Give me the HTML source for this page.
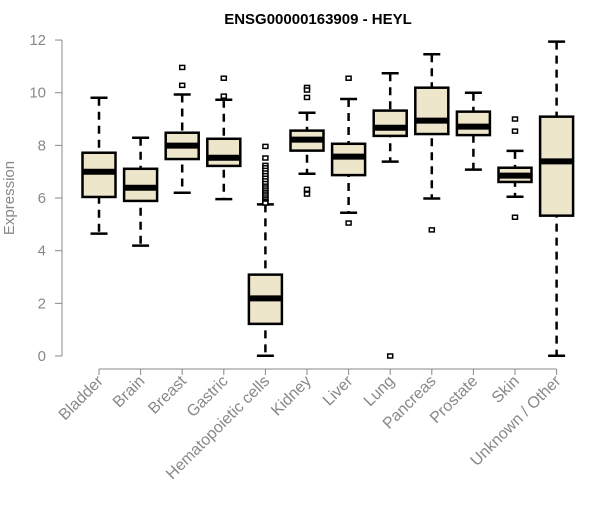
<!DOCTYPE html>
<html><head><meta charset="utf-8"><style>
body{margin:0;background:#fff}
svg text{font-family:"Liberation Sans",Arial,sans-serif}
</style></head><body>
<svg id="chart" width="600" height="500">
<text x="318" y="24" text-anchor="middle" font-weight="bold" font-size="15" fill="#000">ENSG00000163909 - HEYL</text>
<text transform="translate(14,198) rotate(-90)" text-anchor="middle" font-size="15" fill="#888">Expression</text>
<g id="plot"></g>
</svg>
<script>
const categories=["Bladder","Brain","Breast","Gastric","Hematopoietic cells","Kidney","Liver","Lung","Pancreas","Prostate","Skin","Unknown / Other"];
const lowW=[4.65,4.19,6.2,5.96,0.01,6.92,5.44,7.38,5.98,7.08,6.05,0.01];
const q1=[6.04,5.89,7.48,7.22,1.22,7.8,6.87,8.36,8.43,8.39,6.61,5.33];
const med=[7.0,6.39,7.99,7.53,2.19,8.22,7.57,8.67,8.94,8.71,6.85,7.39];
const q3=[7.72,7.11,8.48,8.25,3.09,8.56,8.06,9.32,10.19,9.28,7.15,9.09];
const highW=[9.81,8.29,9.93,9.73,5.76,9.24,9.76,10.74,11.46,10.0,7.79,11.94];
const outliers=[[],[],[10.96,10.28],[10.55,9.87],[7.96,7.52,7.24,7.15,7.05,6.95,6.85,6.75,6.65,6.55,6.45,6.38,6.3,6.22,6.15,6.08,6.0,5.93,5.86,5.81],[10.2,10.1,9.82,6.33,6.15],[10.55,5.05],[0.0],[4.79],[],[9.0,8.54,5.27],[]];
const yTicks=[0,2,4,6,8,10,12];
const NS="http://www.w3.org/2000/svg";
const g=document.getElementById('plot');
function y(v){return 356-v*26.33;}
function x(i){return 99+i*41.6;}
function mk(t,a){const e=document.createElementNS(NS,t);for(const k in a)e.setAttribute(k,a[k]);g.appendChild(e);return e;}
let e=mk('line',{x1:62,x2:62,y1:y(0),y2:y(12),stroke:'#888','stroke-width':1});


yTicks.forEach(t=>{
 let l=mk('line',{x1:55,x2:62,y1:y(t),y2:y(t),stroke:'#888'});
 
 
 let tx=mk('text',{x:46,y:y(t)+5,'text-anchor':'end','font-size':15,fill:'#888'});
 tx.textContent=t;
 
 
});
e=mk('line',{x1:x(0),x2:x(categories.length-1),y1:369,y2:369,stroke:'#888'});


categories.forEach((c,i)=>{
 const cx=x(i);
 let t=mk('line',{x1:cx,x2:cx,y1:369,y2:375,stroke:'#888'});
 
 
 let lb=mk('text',{transform:`translate(${cx+5},${382}) rotate(-45)`,'text-anchor':'end','font-size':16,fill:'#888'});
 lb.textContent=c;
 
 
 let w=mk('line',{x1:cx,x2:cx,y1:y(highW[i]),y2:y(lowW[i]),stroke:'#000','stroke-width':2.5,'stroke-dasharray':'8,6'});
 
 
 [highW[i],lowW[i]].forEach(v=>{
  let cp=mk('line',{x1:cx-8.5,x2:cx+8.5,y1:y(v),y2:y(v),stroke:'#000','stroke-width':2.5});
  
  
 });
 let b=mk('rect',{x:cx-16.5,y:y(q3[i]),width:33,height:y(q1[i])-y(q3[i]),fill:'#ede6cb',stroke:'#000','stroke-width':2.5});
 
 
 let m=mk('line',{x1:cx-16.5,x2:cx+16.5,y1:y(med[i]),y2:y(med[i]),stroke:'#000','stroke-width':6});
 
 
 outliers[i].forEach(v=>{
  let o=mk('rect',{x:cx-2.5,y:y(v)-2,width:5,height:4,fill:'#fff',stroke:'#000','stroke-width':1.5});
  
  
 });
});
</script>
</body></html>
